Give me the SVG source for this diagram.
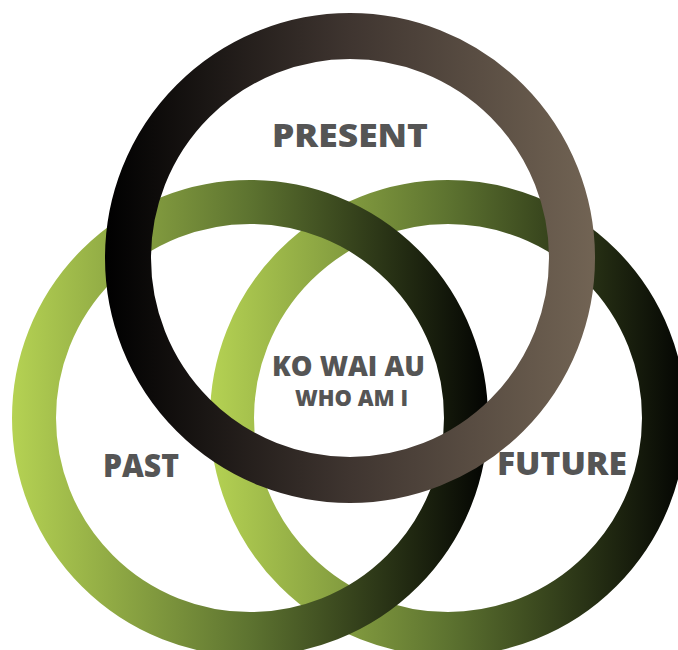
<svg xmlns="http://www.w3.org/2000/svg" width="678" height="650" viewBox="0 0 678 650">
  <defs>
    <!-- green rings fade from lime on the left to near-black on the right -->
    <linearGradient id="gradPast" gradientUnits="userSpaceOnUse" x1="12" y1="0" x2="488" y2="0">
      <stop offset="0" stop-color="#b5d253"/>
      <stop offset="0.5" stop-color="#5d7330"/>
      <stop offset="1" stop-color="#030402"/>
    </linearGradient>
    <linearGradient id="gradFuture" gradientUnits="userSpaceOnUse" x1="210" y1="0" x2="686" y2="0">
      <stop offset="0" stop-color="#b5d253"/>
      <stop offset="0.5" stop-color="#5d7330"/>
      <stop offset="1" stop-color="#030402"/>
    </linearGradient>
    <!-- top ring fades from black to warm grey-brown -->
    <linearGradient id="gradPresent" gradientUnits="userSpaceOnUse" x1="104" y1="0" x2="596" y2="0">
      <stop offset="0" stop-color="#000000"/>
      <stop offset="0.5" stop-color="#3f3530"/>
      <stop offset="1" stop-color="#726454"/>
    </linearGradient>
    <style>
      .ring { fill: none; }
      .label { font-family: "Open Sans", "Liberation Sans", sans-serif; font-weight: 800; fill: #555555; text-anchor: middle; }
    </style>
  </defs>

  <rect width="678" height="650" fill="#ffffff"/>

  <!-- rings, back to front -->
  <g id="future">
    <circle class="ring" cx="448" cy="418" r="216" stroke="url(#gradFuture)" stroke-width="44"/>
  </g>
  <g id="past">
    <circle class="ring" cx="250" cy="418" r="216" stroke="url(#gradPast)" stroke-width="44"/>
  </g>
  <g id="present">
    <circle class="ring" cx="350" cy="258" r="222" stroke="url(#gradPresent)" stroke-width="46"/>
  </g>

  <!-- labels -->
  <g id="labels">
    <text class="label" x="350" y="147" font-size="31" textLength="156" lengthAdjust="spacingAndGlyphs">PRESENT</text>
    <text class="label" x="141" y="477" font-size="31" textLength="76" lengthAdjust="spacingAndGlyphs">PAST</text>
    <text class="label" x="562" y="475" font-size="31" textLength="130" lengthAdjust="spacingAndGlyphs">FUTURE</text>
  </g>
  <g id="center">
    <text class="label" x="348.5" y="376" font-size="29" textLength="153" lengthAdjust="spacingAndGlyphs">KO WAI AU</text>
    <text class="label" x="351.5" y="406" font-size="22" textLength="113" lengthAdjust="spacingAndGlyphs">WHO AM I</text>
  </g>
</svg>
